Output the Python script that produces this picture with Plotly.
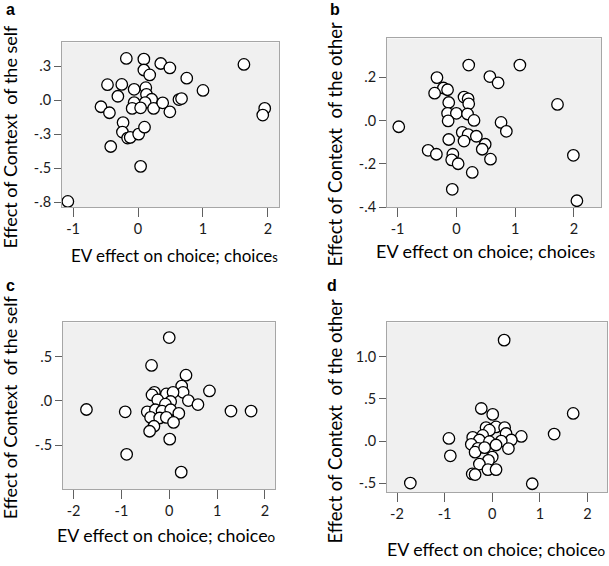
import plotly.graph_objects as go

# ---------------- DATA ----------------
a_x = [-0.18, 0.09, 0.09, 0.18, 0.35, 0.49, 1.63, 0.75, 1.00, -0.47, -0.25, -0.31, -0.06, 0.12, 0.13,
       0.21, -0.06, 0.11, -0.09, 0.04, 0.24, 0.38, 0.49, 0.63, 0.67, -0.57, -0.44, -0.23, -0.24, -0.16,
       -0.12, 0.01, 0.10, -0.42, 0.04, -1.08, 1.95, 1.92]
a_y = [0.307, 0.302, 0.222, 0.186, 0.27, 0.237, 0.263, 0.162, 0.072, 0.114, 0.116, 0.029, 0.08, 0.092, 0.043,
       0.007, -0.017, -0.017, -0.06, -0.056, -0.06, -0.019, -0.085, 0.005, 0.012, -0.048, -0.092, -0.164, -0.234, -0.278,
       -0.273, -0.249, -0.198, -0.34, -0.486, -0.744, -0.06, -0.109]

b_x = [0.21, 1.08, -0.33, 0.57, 0.71, -0.22, -0.15, -0.37, 0.13, 0.20, 0.21, -0.13, 1.72, -0.15, 0.00,
       0.19, 0.30, -0.14, -0.98, 0.76, 0.85, 0.10, 0.20, 0.34, 0.13, -0.13, 0.49, 0.44, -0.48, -0.34,
       -0.06, -0.08, 0.03, 0.58, 0.27, -0.07, 1.99, 2.05]
b_y = [0.256, 0.256, 0.198, 0.203, 0.174, 0.15, 0.142, 0.126, 0.108, 0.10, 0.077, 0.083, 0.074, 0.033, 0.033,
       0.03, 0.0, -0.002, -0.029, -0.009, -0.05, -0.055, -0.065, -0.073, -0.095, -0.088, -0.11, -0.133, -0.138, -0.156,
       -0.156, -0.182, -0.20, -0.179, -0.24, -0.318, -0.161, -0.371]

c_x = [0.00, -0.37, 0.35, 0.26, 0.29, 0.84, -0.31, -0.36, -0.06, 0.08, -0.24, 0.40, 0.03, -0.08, 0.60,
       -1.73, -0.92, 1.29, 1.71, -0.46, -0.29, -0.15, 0.03, 0.20, -0.39, -0.20, -0.06, 0.09, -0.32, -0.41,
       0.01, -0.89, 0.25]
c_y = [0.714, 0.40, 0.29, 0.167, 0.097, 0.112, 0.097, 0.067, 0.078, 0.097, 0.011, 0.004, -0.007, -0.037, -0.041,
       -0.097, -0.123, -0.115, -0.115, -0.123, -0.10, -0.115, -0.10, -0.141, -0.186, -0.193, -0.186, -0.242, -0.286, -0.342,
       -0.431, -0.602, -0.803]

d_x = [0.25, -0.23, 0.01, 1.70, 1.30, -0.13, 0.08, 0.26, -0.06, 0.29, -0.20, -0.41, -0.91, 0.61, 0.40,
       0.19, -0.27, -0.06, -0.44, 0.08, 0.34, -0.30, -0.36, -0.16, -0.88, 0.00, -0.08, -0.27, -0.09, 0.08,
       -0.42, -0.36, -1.72, 0.84]
d_y = [1.193, 0.385, 0.315, 0.326, 0.082, 0.159, 0.167, 0.159, 0.128, 0.089, 0.066, 0.043, 0.031, 0.054, 0.012,
       0.0, 0.012, -0.008, -0.039, -0.047, -0.089, -0.086, -0.132, -0.078, -0.175, -0.19, -0.229, -0.272, -0.338, -0.338,
       -0.389, -0.396, -0.497, -0.505]

# tick labels
x_ticks_ab = [-1, 0, 1, 2]
x_ticks_cd = [-2, -1, 0, 1, 2]
a_yticks = [0.25, 0.0, -0.25, -0.5, -0.75]
a_yticklabels = [".3", ".0", "-.3", "-.5", "-.8"]
b_yticks = [0.2, 0.0, -0.2, -0.4]
b_yticklabels = [".2", ".0", "-.2", "-.4"]
c_yticks = [0.5, 0.0, -0.5, -1.0]
c_yticklabels = [".5", ".0", "-.5", "-1.0"]
d_yticks = [1.0, 0.5, 0.0, -0.5]
d_yticklabels = ["1.0", ".5", ".0", "-.5"]

panel_letters = ["a", "b", "c", "d"]
y_titles = ["Effect of Context\u00a0\u00a0of the self", "Effect of Context\u00a0\u00a0of the other",
            "Effect of Context\u00a0\u00a0of the self", "Effect of Context\u00a0\u00a0of the other"]
x_title_main = "EV effect on choice; choice"
x_title_subs = ["s", "s", "o", "o"]

# ---------------- FIGURE ----------------
FONT = "Lato"
W, H = 609, 566

fig = go.Figure()
data = [(a_x, a_y), (b_x, b_y), (c_x, c_y), (d_x, d_y)]
for i, (xs, ys) in enumerate(data):
    sfx = "" if i == 0 else str(i + 1)
    fig.add_trace(go.Scatter(
        x=xs, y=ys, mode="markers", xaxis="x" + sfx, yaxis="y" + sfx,
        marker=dict(size=11.5, color="white", line=dict(color="black", width=1.3)),
        showlegend=False, hoverinfo="x+y"))

# pixel boxes: (left, right, top, bottom)
boxes = [(62, 279, 43, 210), (387, 601, 39, 210), (63, 275, 327, 496), (387, 607, 327, 499)]
xranges = [[-1.17, 2.17], [-1.18, 2.46], [-2.22, 2.21], [-2.21, 2.41]]
yranges = [[-0.785, 0.425], [-0.40, 0.379], [-0.993, 0.885], [-0.602, 1.403]]
yticks = [(a_yticks, a_yticklabels), (b_yticks, b_yticklabels),
          (c_yticks, c_yticklabels), (d_yticks, d_yticklabels)]
xticks = [x_ticks_ab, x_ticks_ab, x_ticks_cd, x_ticks_cd]

axis_common = dict(showline=True, linecolor="#a6a6a6", linewidth=1, mirror=True,
                   ticks="outside", tickcolor="#606060", tickwidth=1,
                   showgrid=False, zeroline=False,
                   tickfont=dict(family=FONT, size=14.5, color="#1a1a1a"))

layout = {}
for i in range(4):
    l, r, t, b = boxes[i]
    sfx = "" if i == 0 else str(i + 1)
    layout["xaxis" + sfx] = dict(axis_common, domain=[l / W, r / W], range=xranges[i],
                                 anchor="y" + sfx, tickvals=xticks[i], ticklen=9,
                                 ticktext=[str(v) for v in xticks[i]])
    layout["yaxis" + sfx] = dict(axis_common, domain=[1 - b / H, 1 - t / H], range=yranges[i],
                                 anchor="x" + sfx, tickvals=yticks[i][0], ticklen=7,
                                 ticktext=yticks[i][1])

fig.update_layout(**layout)

# shaded plot backgrounds
shapes = []
for i in range(4):
    sfx = "" if i == 0 else str(i + 1)
    shapes.append(dict(type="rect", xref="x" + sfx + " domain", yref="y" + sfx + " domain",
                       x0=0, x1=1, y0=0, y1=1, fillcolor="#f0f0f0", line=dict(width=0),
                       layer="below"))

annotations = []
letter_pos = [(10, 10), (335, 10), (10, 290), (332, 290)]
ytitle_pos = [(10, 138.5), (335, 146.5), (10, 413), (335, 427.5)]
ytitle_sizes = [18, 18.5, 18, 18.5]
xtitle_pos = [(174, 259), (485, 255), (166.5, 543), (496.5, 557)]
xtitle_sizes = [17, 18, 17.8, 17.8]
for i in range(4):
    lx, ly = letter_pos[i]
    annotations.append(dict(text="<b>%s</b>" % panel_letters[i], x=lx / W, y=1 - ly / H,
                            xref="paper", yref="paper", showarrow=False,
                            font=dict(family="Liberation Sans", size=16, color="black"),
                            xanchor="center", yanchor="middle"))
    tx, ty = ytitle_pos[i]
    annotations.append(dict(text=y_titles[i], x=tx / W, y=1 - ty / H, textangle=-90,
                            xref="paper", yref="paper", showarrow=False,
                            font=dict(family=FONT, size=ytitle_sizes[i], color="black"),
                            xanchor="center", yanchor="middle"))
    xx, xy = xtitle_pos[i]
    sub_size = round(xtitle_sizes[i] * 0.75, 1)
    annotations.append(dict(text=x_title_main + '<span style="font-size:%spx">%s</span>' % (sub_size, x_title_subs[i]),
                            x=xx / W, y=1 - xy / H,
                            xref="paper", yref="paper", showarrow=False,
                            font=dict(family=FONT, size=xtitle_sizes[i], color="black"),
                            xanchor="center", yanchor="middle"))

fig.update_layout(width=W, height=H, margin=dict(l=0, r=0, t=0, b=0),
                  paper_bgcolor="white", plot_bgcolor="rgba(0,0,0,0)",
                  shapes=shapes, annotations=annotations, showlegend=False)

fig.write_html("out.html", config={"displayModeBar": False},
               post_script="document.body.style.margin='0px';")
